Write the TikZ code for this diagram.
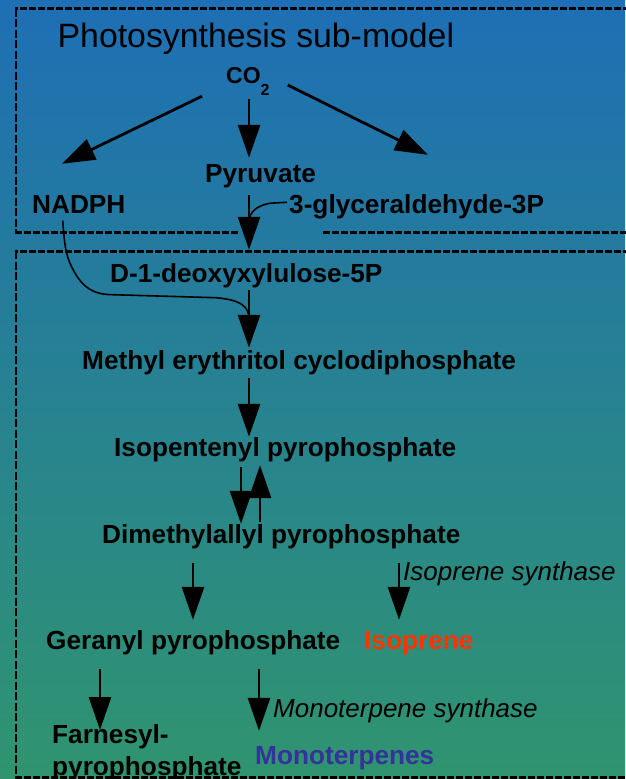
\documentclass[tikz,border=0pt]{standalone}
\usepackage{fontspec}
\setmainfont{Liberation Sans}
\usetikzlibrary{arrows.meta,calc}
\definecolor{skytop}{RGB}{30,111,181}
\definecolor{skymid}{RGB}{38,139,150}
\definecolor{skybot}{RGB}{48,148,111}
\definecolor{isored}{RGB}{255,51,0}
\definecolor{monoblue}{RGB}{51,51,153}

\begin{document}
\begin{tikzpicture}[x=1pt,y=-1pt,
  lbl/.style={anchor=base west,inner sep=0pt,font=\fontsize{26.2}{30}\selectfont\bfseries,
    text height=19pt,text depth=5.5pt},
  enz/.style={anchor=base west,inner sep=0pt,font=\fontsize{26}{30}\selectfont\itshape},
  arr/.style={line width=2.8pt,-{Triangle[length=33pt,width=22pt]}},
  link/.style={line width=1.6pt},
  hbox/.style={line width=3pt,dash pattern=on 7pt off 2pt},
  vbox/.style={line width=2pt,dash pattern=on 8pt off 2.5pt}]

% background
\useasboundingbox (0,0) rectangle (625,779);
\shade[top color=skytop,middle color=skymid,bottom color=skybot] (0,0) rectangle (625,779);

% compartments: horizontal edges are heavier than the vertical ones
\draw[hbox] (630,8.7) -- (15,8.7);
\draw[vbox] (16,8.7) -- (16,232);
\draw[hbox] (15,232) -- (239,232);
\draw[hbox] (323,232) -- (630,232);
\draw[hbox] (630,251) -- (15,251);
\draw[vbox] (16,251) -- (16,777);
\draw[hbox] (15,777) -- (630,777);

% column positions of the vertical arrows
\coordinate (axis) at (249,0);
\coordinate (ippdown) at (241,0);
\coordinate (ippup) at (260,0);
\coordinate (gcol) at (193,0);
\coordinate (icol) at (399,0);
\coordinate (fcol) at (100,0);
\coordinate (mcol) at (259,0);

% labels
\node[anchor=base west,inner sep=0pt,font=\fontsize{33.8}{40}\selectfont] (title) at (57.5,47) {Photosynthesis sub-model};
\node[anchor=base west,inner sep=0pt,font=\fontsize{23}{28}\selectfont\bfseries,text height=16pt] (co2) at (226,83)
  {CO\raisebox{-12pt}{\fontsize{16}{16}\selectfont 2}};
\node[lbl] (pyr) at (205,182) {Pyruvate};
\node[lbl] (nadph) at (32,213) {NADPH};
\node[lbl] (glyc) at (289,213) {3-glyceraldehyde-3P};
\node[lbl] (dxp) at (110,282) {D-1-deoxyxylulose-5P};
\node[lbl] (mecp) at (82,369) {Methyl erythritol cyclodiphosphate};
\node[lbl] (ipp) at (114,456) {Isopentenyl pyrophosphate};
\node[lbl] (dmapp) at (102,543) {Dimethylallyl pyrophosphate};
\node[enz] (isosyn) at (403,580) {Isoprene synthase};
\node[lbl] (gpp) at (46,649) {Geranyl pyrophosphate};
\node[lbl,text=isored] (isop) at (364,649) {Isoprene};
\node[enz] (monosyn) at (273,717) {Monoterpene synthase};
\node[anchor=north west,inner sep=0pt,align=left,font=\fontsize{26.2}{32}\selectfont\bfseries] (fpp) at (52,724)
  {Farnesyl-\\pyrophosphate};
\node[lbl,text=monoblue] (mono) at (255,764) {Monoterpenes};

% CO2 fixation
\draw[arr] ($(co2.south west)+(-24,1)$) -- ($(nadph.north west)+(30,-30)$);
\draw[arr] ($(co2.south -| axis)+(0,4)$) -- ($(pyr.north -| axis)+(0,-5)$);
\draw[arr] ($(co2.east)+(18,4)$) -- ($(glyc.north west)+(139,-39)$);

% into the MEP pathway
\draw[arr] ($(pyr.south -| axis)+(0,7.5)$) -- ($(dxp.north -| axis)+(0,-13)$);
\coordinate (merge1) at ($(pyr.south -| axis)+(0,34)$);
\draw[link] ($(glyc.west)+(-2,-4)$) -- ++(-17,1)
  .. controls +(-12,2) and ($(merge1)+(0,-10)$) .. (merge1);

\draw[arr] ($(dxp.south -| axis)+(0,2.5)$) -- ($(mecp.north -| axis)+(0,-2)$);
\coordinate (merge2) at ($(dxp.south -| axis)+(0,31)$);
\draw[link] ($(nadph.south)+(-16,2)$) .. controls +(2,30) and +(-8,-14) .. ++(12,52)
  .. controls +(8,14) and +(-20,0) .. ++(38,22) -- ++(103,3)
  .. controls +(25,2) and ($(merge2)+(0,-12)$) .. (merge2);

\draw[arr] ($(mecp.south -| axis)+(0,3.5)$) -- ($(ipp.north -| axis)+(0,0)$);
\draw[arr] ($(ipp.south -| ippdown)+(0,5)$) -- ($(dmapp.north -| ippdown)+(0,0)$);
\draw[arr] ($(dmapp.north -| ippup)+(0,-2)$) -- ($(ipp.south -| ippup)+(0,3.5)$);

% terpenoid branches
\draw[arr] ($(dmapp.south -| gcol)+(0,14.5)$) -- ($(gpp.north -| gcol)+(0,-10)$);
\draw[arr] ($(dmapp.south -| icol)+(0,14.5)$) -- ($(isop.north -| icol)+(0,-10)$);
\draw[arr] ($(gpp.south -| fcol)+(0,14.5)$) -- ($(fpp.north -| fcol)+(0,6)$);
\draw[arr] ($(gpp.south -| mcol)+(0,14.5)$) -- ($(mono.north -| mcol)+(0,-14)$);

\end{tikzpicture}
\end{document}
